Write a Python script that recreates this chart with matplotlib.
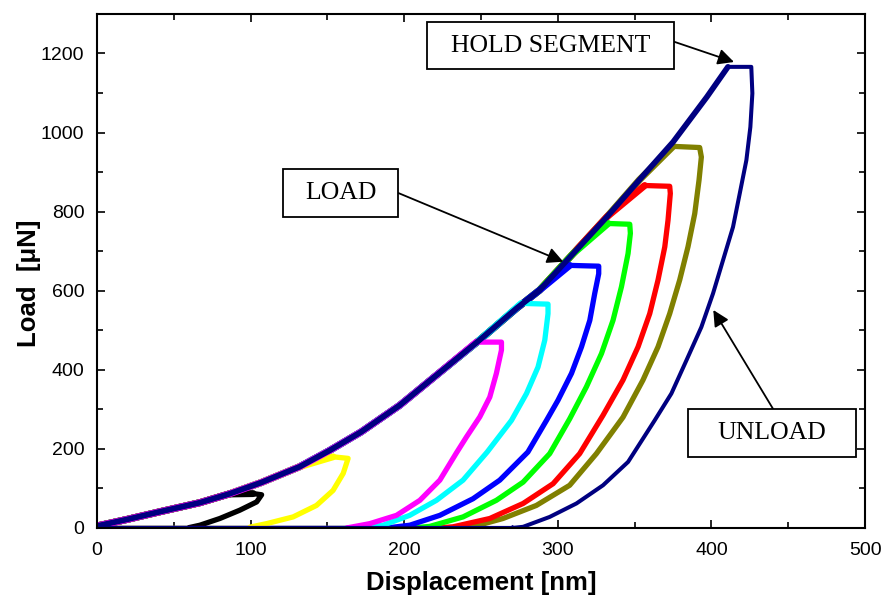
import matplotlib
matplotlib.use("Agg")
import matplotlib.pyplot as plt
from matplotlib.patches import Rectangle
from matplotlib.ticker import MultipleLocator

# common loading branch (displacement nm, load uN)
load_h = [0, 20, 42, 67, 86, 107, 132, 151, 172, 197, 219, 249, 273, 288, 310, 332, 353, 375, 397, 411]
load_p = [5, 22, 42, 64, 86, 115, 155, 195, 243, 310, 380, 475, 555, 601, 694, 787, 880, 976, 1090, 1166]

# hold + unloading branches
black_h = [101.7, 107.2, 104, 93, 80, 67, 60]
black_p = [87, 84, 66, 45, 24, 7, 1]
yellow_h = [153.7, 163.5, 160.3, 153.7, 142.9, 127.7, 110.4, 99.5]
yellow_p = [180, 176, 138, 95, 57, 28, 11, 2]
magenta_h = [247, 263.3, 263.3, 260, 255.7, 249.2, 240.5, 234, 223.2, 210.2, 195, 177.6, 162.5]
magenta_p = [470, 470, 450, 391, 331, 281, 230, 190, 121, 70, 32, 11, 0]
cyan_h = [276.3, 293.6, 293.6, 291.5, 287.1, 279.6, 269.8, 254, 238.3, 221, 203.6, 186.3, 173.3]
cyan_p = [568, 566, 542, 475, 407, 340, 272, 192, 121, 70, 32, 7, 0]
blue_h = [307.7, 326.6, 326.6, 324, 320.8, 315.4, 308.9, 300.1, 292.6, 280.5, 262.2, 244.8,
          223.2, 203.6, 188.5]
blue_p = [664, 662, 643, 593, 525, 458, 391, 323, 272, 192, 121, 74, 32, 7, 0]
green_h = [332.7, 346.8, 347.2, 345.7, 341.4, 335.9, 328.4, 318.6, 307.7, 294.7, 277.4, 260,
           238.3, 216.6, 205]
green_p = [770, 768, 745, 694, 610, 525, 441, 357, 276, 188, 116, 70, 28, 4, 0]
red_h = [356.5, 372.8, 373.2, 371.7, 369.6, 365.2, 359.8, 352.2, 342.4, 329.4, 314.2, 296.9,
         277.4, 255.7, 231.8, 222]
red_p = [866, 864, 846, 778, 711, 627, 542, 458, 374, 285, 188, 112, 62, 24, 3, 0]
olive_h = [375, 392.3, 393.4, 391.9, 389.1, 384.7, 379.3, 372.8, 365.2, 355.4, 342.4, 325.1,
           307.7, 286, 264.3, 242.7, 235]
olive_p = [965, 962, 938, 880, 795, 711, 627, 542, 458, 374, 280, 188, 108, 57, 24, 1, 0]
navy_h = [410.7, 425.9, 426.6, 425.3, 422.7, 418.4, 414, 407.5, 401, 393.4, 383.7, 373.9, 363,
          345.7, 329.4, 312.1, 294.7, 277.4, 270]
navy_p = [1166, 1166, 1099, 1014, 930, 846, 761, 677, 593, 508, 424, 340, 272, 167, 108, 62,
          28, 3, 0]

series = [
    ("#808000", olive_h, olive_p),
    ("#ff0000", red_h, red_p),
    ("#00ff00", green_h, green_p),
    ("#0000ff", blue_h, blue_p),
    ("#00ffff", cyan_h, cyan_p),
    ("#ffff00", yellow_h, yellow_p),
    ("#000000", black_h, black_p),
    ("#ff00ff", magenta_h, magenta_p),
    ("#000080", navy_h, navy_p),
]

plt.rcParams['font.family'] = ['Liberation Sans', 'DejaVu Sans']

fig = plt.figure(figsize=(8.81, 6.03), dpi=100)
ax = fig.add_axes([0.110, 0.1244, 0.872, 0.8526])

for col, hh, pp in series:
    h0 = hh[0]
    xs = [h for h in load_h if h < h0 - 10] + [h0]
    ys = [p for h, p in zip(load_h, load_p) if h < h0 - 10] + [pp[0]]
    lw = 2.9 if col == "#000080" else 3.8
    # loading branch a bit heavier (many overlapping runs)
    ax.plot(xs, ys, color=col, lw=lw + 1.2, solid_joinstyle='round', solid_capstyle='round')
    ax.plot(hh, pp, color=col, lw=lw, solid_joinstyle='round', solid_capstyle='round')
    # zero-load segment before contact
    ax.plot([0, hh[-1]], [0, 0], color=col, lw=3, marker='*', markersize=5)

ax.set_xlim(0, 500)
ax.set_ylim(0, 1300)
ax.xaxis.set_major_locator(MultipleLocator(100))
ax.xaxis.set_minor_locator(MultipleLocator(50))
ax.yaxis.set_major_locator(MultipleLocator(200))
ax.yaxis.set_minor_locator(MultipleLocator(100))
ax.tick_params(which='both', direction='in', top=True, right=True, width=1.2, labelsize=14)
ax.tick_params(which='major', length=6)
ax.tick_params(which='minor', length=4)
ax.tick_params(axis='x', pad=10)
ax.tick_params(axis='y', pad=9)
for s in ax.spines.values():
    s.set_linewidth(1.5)

ax.set_xlabel("Displacement [nm]", fontsize=18.5, fontweight='bold', labelpad=9)
ax.set_ylabel("Load  [\u03bcN]", fontsize=18.5, fontweight='bold')
ax.yaxis.set_label_coords(-0.073, 0.476)

W, H = 881.0, 603.0


def box(x0, y0, x1, y1, text):
    r = Rectangle((x0 / W, 1 - y1 / H), (x1 - x0) / W, (y1 - y0) / H,
                  transform=fig.transFigure, facecolor='white', edgecolor='black',
                  lw=1.3, zorder=5)
    fig.patches.append(r)
    fig.text((x0 + x1) / 2 / W, 1 - (y0 + y1) / 2 / H, text, ha='center', va='center',
             fontsize=18.5, family='Liberation Serif', zorder=6)


def arrow(x0, y0, x1, y1):
    ax.annotate("", xy=(x1 / W, 1 - y1 / H), xytext=(x0 / W, 1 - y0 / H),
                xycoords='figure fraction', textcoords='figure fraction',
                arrowprops=dict(arrowstyle='-|>', color='black', lw=1.3,
                                mutation_scale=24, shrinkA=0, shrinkB=0))


arrow(674, 41.7, 734, 62)
arrow(398.3, 193, 563.3, 261.7)
arrow(773.3, 409.3, 713.3, 310)
box(426.7, 21.7, 674, 69.3, "HOLD SEGMENT")
box(283.3, 169, 398.3, 217.3, "LOAD")
box(687.7, 409.3, 856, 456.7, "UNLOAD")

fig.savefig("out.png", dpi=100)
